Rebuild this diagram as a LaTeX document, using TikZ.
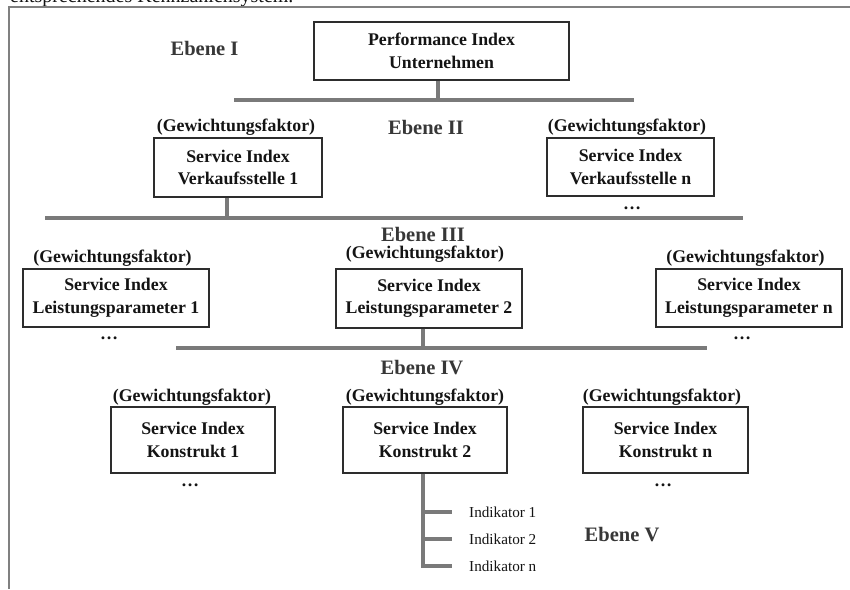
\documentclass[tikz,border=0pt]{standalone}
\usepackage{fontspec}
\setmainfont{Liberation Serif}
\definecolor{barc}{RGB}{122,122,122}
\definecolor{boxc}{RGB}{45,45,45}
\definecolor{txt}{RGB}{20,20,20}
\definecolor{ebc}{RGB}{55,55,55}
\definecolor{framec}{RGB}{128,128,128}
\begin{document}
\begin{tikzpicture}[x=1pt,y=-1pt,
  box/.style={draw=boxc, line width=1.3pt, fill=white, align=center, inner sep=0pt,
    font=\bfseries\fontsize{17.8}{22.5}\selectfont, text=txt},
  gew/.style={font=\bfseries\fontsize{17.8}{22}\selectfont, text=txt, inner sep=0pt},
  ebene/.style={font=\bfseries\fontsize{20.5}{24}\selectfont, text=ebc, inner sep=0pt},
  bar/.style={draw=barc, line width=4.5pt},
  stem/.style={draw=barc, line width=3.5pt},
  dotsn/.style={font=\bfseries\fontsize{18}{20}\selectfont, text=txt, inner sep=0pt, anchor=base},
  ind/.style={font=\fontsize{15.2}{18}\selectfont, text=txt, inner sep=0pt, anchor=west},
  frame/.style={draw=framec, line width=1.5pt}
]
\useasboundingbox (0,0) rectangle (850,589);
\clip (0,0) rectangle (850,589);

% cut-off caption line at the very top
\node[anchor=base west, inner sep=0pt, font=\fontsize{20}{24}\selectfont, text=txt] (cap) at (10,2) {entsprechendes Kennzahlensystem.};

% frame
\coordinate (fr1) at (850,7);
\coordinate (fr2) at (9,7);
\coordinate (fr3) at (9,589);
\draw[frame] (fr1) -- (fr2) -- (fr3);

% bars
\coordinate (b1w) at (234,100); \coordinate (b1e) at (634,100);
\coordinate (b2w) at (45,218);  \coordinate (b2e) at (743,218);
\coordinate (b3w) at (176,348); \coordinate (b3e) at (707,348);
\draw[bar] (b1w) -- (b1e);
\draw[bar] (b2w) -- (b2e);
\draw[bar] (b3w) -- (b3e);

% Level I
\node[box, minimum width=255pt, minimum height=58pt] (top) at (441.5,51) {Performance Index\\Unternehmen};
\node[ebene] (e1) at (204.5,48) {Ebene I};

% Level II
\node[box, minimum width=168pt, minimum height=59pt] (v1) at (238,167.5) {Service Index\\Verkaufsstelle 1};
\node[box, minimum width=167pt, minimum height=58pt] (vn) at (630.5,167) {Service Index\\Verkaufsstelle n};
\node[gew] (g1) at (236,127) {(Gewichtungsfaktor)};
\node[gew] (g2) at (627,127) {(Gewichtungsfaktor)};
\node[ebene] (e2) at (426,127) {Ebene II};
\node[dotsn] (d1) at (632,209.5) {…};

% Level III
\node[box, minimum width=186pt, minimum height=58pt] (p1) at (116,298) {Service Index\\Leistungsparameter 1};
\node[box, minimum width=186pt, minimum height=59pt] (p2) at (429,298.5) {Service Index\\Leistungsparameter 2};
\node[box, minimum width=186pt, minimum height=58pt] (pn) at (749,298) {Service Index\\Leistungsparameter n};
\node[gew] (g3) at (112.5,258.5) {(Gewichtungsfaktor)};
\node[gew] (g4) at (425,254.5) {(Gewichtungsfaktor)};
\node[gew] (g5) at (745.5,258.5) {(Gewichtungsfaktor)};
\node[ebene] (e3) at (423,234) {Ebene III};
\node[dotsn] (d2) at (109,339.5) {…};
\node[dotsn] (d3) at (742,339.5) {…};

% Level IV
\node[box, minimum width=164pt, minimum height=66pt] (k1) at (193,440) {Service Index\\Konstrukt 1};
\node[box, minimum width=164pt, minimum height=66pt] (k2) at (425,440) {Service Index\\Konstrukt 2};
\node[box, minimum width=165pt, minimum height=66pt] (kn) at (665.5,440) {Service Index\\Konstrukt n};
\node[gew] (g6) at (192,397) {(Gewichtungsfaktor)};
\node[gew] (g7) at (425,397) {(Gewichtungsfaktor)};
\node[gew] (g8) at (662,397) {(Gewichtungsfaktor)};
\node[ebene] (e4) at (422,368) {Ebene IV};
\node[dotsn] (d4) at (190,486.5) {…};
\node[dotsn] (d5) at (663,486.5) {…};

% Level V
\node[ind] (i1) at (469,512) {Indikator 1};
\node[ind] (i2) at (469,539) {Indikator 2};
\node[ind] (i3) at (469,566) {Indikator n};
\node[ebene] (e5) at (622,535) {Ebene V};

% connectors
\draw[stem] ([xshift=-3.5pt]top.south) -- ([xshift=-3.5pt]top.south |- b1w);
\draw[stem] ([xshift=-11pt]v1.south) -- ([xshift=-11pt]v1.south |- b2w);
\draw[stem] ([xshift=-6pt]p2.south) -- ([xshift=-6pt]p2.south |- b3w);
\coordinate (ks) at (423,566);
\draw[stem] ([xshift=-2pt]k2.south) -- (ks |- i3.west) -- ([xshift=-17pt]i3.west);
\draw[stem] (ks |- i1.west) -- ([xshift=-17pt]i1.west);
\draw[stem] (ks |- i2.west) -- ([xshift=-17pt]i2.west);
\end{tikzpicture}
\end{document}
